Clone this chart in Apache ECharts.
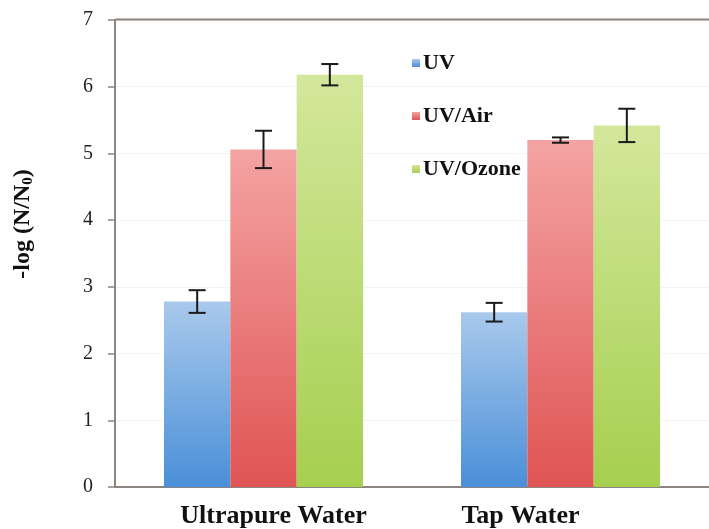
<!DOCTYPE html>
<html>
<head>
<meta charset="utf-8">
<script src="https://cdn.jsdelivr.net/npm/echarts@6/dist/echarts.min.js"></script>
<style>
  html, body { margin: 0; padding: 0; background: #ffffff; }
  #chart { width: 709px; height: 529px; }
</style>
</head>
<body>
<div id="chart"></div>
<script>
// Inactivation of bacteria, log reduction by treatment and water type
const categories = ['Ultrapure Water', 'Tap Water'];
const seriesNames = ['UV', 'UV/Air', 'UV/Ozone'];
const uvValues = [2.78, 2.62];
const uvAirValues = [5.06, 5.20];
const uvOzoneValues = [6.18, 5.42];
const uvErrors = [0.17, 0.14];
const uvAirErrors = [0.28, 0.04];
const uvOzoneErrors = [0.16, 0.25];
const yTicks = [0, 1, 2, 3, 4, 5, 6, 7];

const FONT = '"Liberation Serif", "Times New Roman", serif';

// light top -> saturated bottom, per bar
function grad(top, bottom) {
  return new echarts.graphic.LinearGradient(0, 0, 0, 1, [
    { offset: 0, color: top },
    { offset: 1, color: bottom }
  ]);
}
const palettes = [
  ['#a9c9ec', '#4a8fd8'],
  ['#f4a3a3', '#e05454'],
  ['#d3e79b', '#a6cf4f']
];

const valueSets = [uvValues, uvAirValues, uvOzoneValues];
const errorSets = [uvErrors, uvAirErrors, uvOzoneErrors];
const CAT_GAP = 0.33;

const barSeries = seriesNames.map((name, i) => ({
  name: name,
  type: 'bar',
  data: valueSets[i],
  barGap: '0%',
  barCategoryGap: (CAT_GAP * 100) + '%',
  itemStyle: { color: grad(palettes[i][0], palettes[i][1]) },
  emphasis: { disabled: true }
}));

// error bars drawn on top of each bar, offset to match its slot in the group
const errorSeries = seriesNames.map((name, i) => ({
  type: 'custom',
  name: name + ' error',
  z: 10,
  silent: true,
  data: valueSets[i].map((v, k) => [k, v, errorSets[i][k]]),
  renderItem: function (params, api) {
    const k = api.value(0);
    const v = api.value(1);
    const e = api.value(2);
    const band = api.size([1, 0])[0];
    const bw = band * (1 - CAT_GAP) / 3;
    const cx = api.coord([k, v])[0] + (i - 1) * bw;
    const yHi = api.coord([k, v + e])[1];
    const yLo = api.coord([k, v - e])[1];
    const cap = 8.5;
    const style = { stroke: '#1a1a1a', lineWidth: 2, fill: null };
    return {
      type: 'group',
      children: [
        { type: 'line', shape: { x1: cx, y1: yHi, x2: cx, y2: yLo }, style: style },
        { type: 'line', shape: { x1: cx - cap, y1: yHi, x2: cx + cap, y2: yHi }, style: style },
        { type: 'line', shape: { x1: cx - cap, y1: yLo, x2: cx + cap, y2: yLo }, style: style }
      ]
    };
  }
}));

const chart = echarts.init(document.getElementById('chart'), null, { renderer: 'canvas' });
chart.setOption({
  animation: false,
  backgroundColor: '#ffffff',
  grid: { left: 115, right: 0, top: 20, bottom: 42, show: false },
  legend: {
    data: seriesNames,
    orient: 'vertical',
    left: 407,
    top: 47,
    itemWidth: 8,
    itemHeight: 8,
    itemGap: 31,
    icon: 'rect',
    selectedMode: false,
    textStyle: { fontFamily: FONT, fontWeight: 'bold', fontSize: 22, color: '#111', padding: [0, 0, 0, -2] }
  },
  xAxis: {
    type: 'category',
    data: categories,
    axisLine: { lineStyle: { color: '#8c8480', width: 2 } },
    axisTick: { show: false },
    axisLabel: {
      interval: 0,
      hideOverlap: false,
      fontFamily: FONT, fontWeight: 'bold', fontSize: 26, color: '#111', margin: 16,
      formatter: function (v, idx) { return '{c' + idx + '|' + v + '}'; },
      rich: {
        c0: { fontFamily: FONT, fontWeight: 'bold', fontSize: 26, color: '#111', padding: [0, 0, 0, 20] },
        c1: { fontFamily: FONT, fontWeight: 'bold', fontSize: 26, color: '#111', padding: [0, 80, 0, 0] }
      }
    }
  },
  yAxis: {
    type: 'value',
    min: yTicks[0],
    max: yTicks[yTicks.length - 1],
    interval: 1,
    axisLine: { show: true, lineStyle: { color: '#8c8480', width: 2 } },
    axisTick: { show: true, length: 7, lineStyle: { color: '#8c8480', width: 1.5 } },
    axisLabel: { fontFamily: FONT, fontSize: 20, color: '#222', margin: 22 },
    splitLine: { show: true, lineStyle: { color: '#f3f3f3', width: 1 } }
  },
  graphic: [
    // frame line along the top of the plot area
    { type: 'line', shape: { x1: 115, y1: 19.5, x2: 709, y2: 19.5 }, style: { stroke: '#8c8480', lineWidth: 2 }, z: 5 },
    // y-axis title with subscripted N0
    {
      type: 'text',
      x: 23, y: 224,
      rotation: Math.PI / 2,
      style: {
        text: '-log (N/N{sub|0})',
        fontFamily: FONT, fontWeight: 'bold', fontSize: 24, fill: '#111',
        align: 'center', verticalAlign: 'middle',
        rich: { sub: { fontFamily: FONT, fontWeight: 'bold', fontSize: 15, fill: '#111', padding: [10, 0, 0, 0] } }
      }
    }
  ],
  series: barSeries.concat(errorSeries)
});
</script>
</body>
</html>
